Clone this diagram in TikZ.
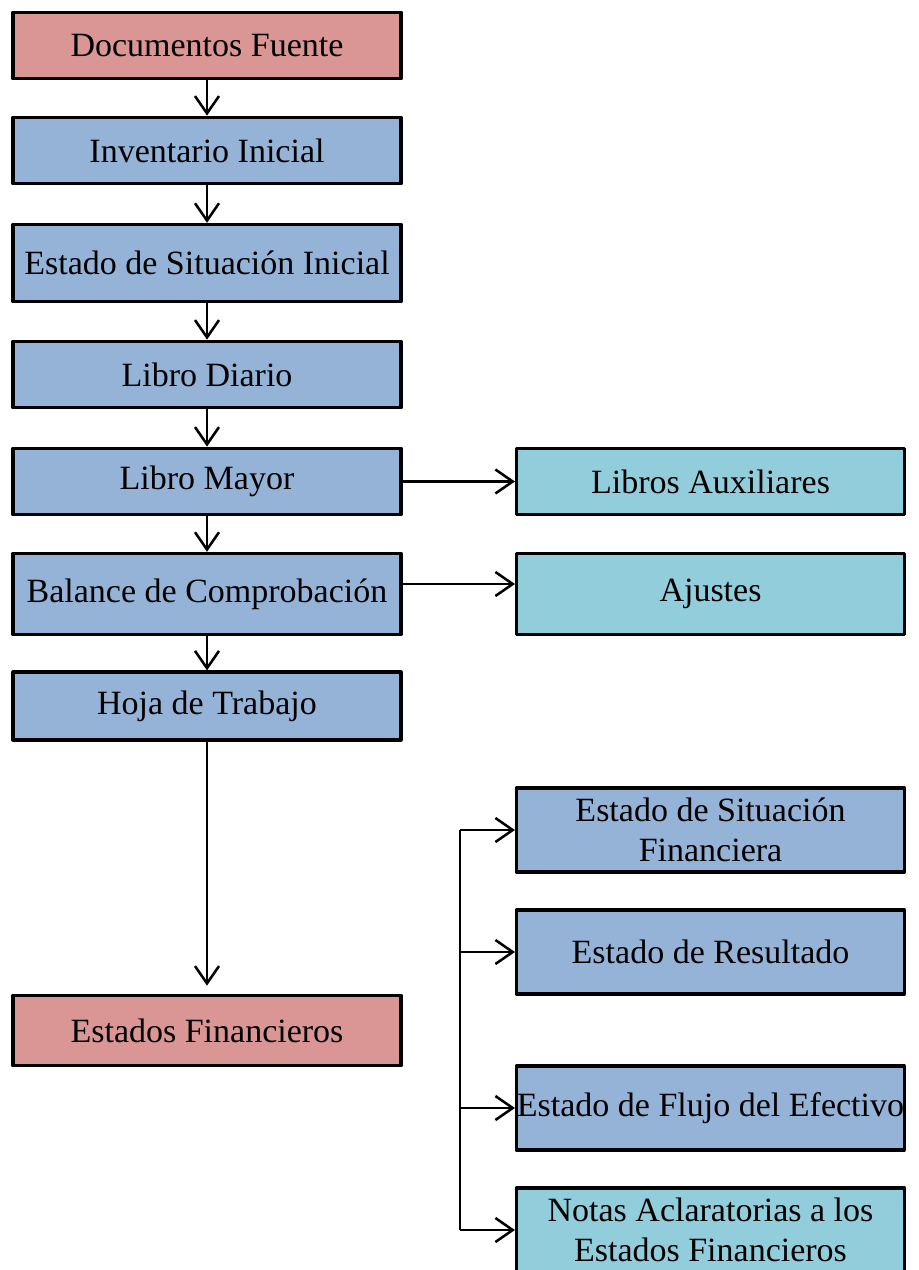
\documentclass[tikz,border=0pt]{standalone}
\usepackage{fontspec}
\setmainfont{Liberation Serif}
\usetikzlibrary{arrows.meta}
\definecolor{rosa}{HTML}{D99694}
\definecolor{azul}{HTML}{95B3D7}
\definecolor{celeste}{HTML}{92CDDC}
\begin{document}
\begin{tikzpicture}[x=.75pt,y=-.75pt,line join=round,line width=1.9pt,
    >={Straight Barb[length=13pt,width=18pt,line width=1.9pt]},
    caja/.style={draw,line width=2.3pt,minimum width=291pt,minimum height=#1,inner sep=0pt,
      align=center,font=\fontsize{25.5}{30.5}\selectfont},
    caja/.default=50pt]
    \useasboundingbox (0,0) rectangle (918,1270);
    % columna principal
    \node[caja,fill=rosa] (fuente) at (207,45.5) {Documentos Fuente};
    \node[caja,fill=azul] (inventario) at (207,150.5) {Inventario Inicial};
    \node[caja=58pt,fill=azul] (situacion) at (207,263) {Estado de Situación Inicial};
    \node[caja,fill=azul] (diario) at (207,374.5) {Libro Diario};
    \node[caja,fill=azul] (mayor) at (207,481.5) {Libro Mayor};
    \node[caja=61pt,fill=azul] (balance) at (207,594) {Balance de Comprobación};
    \node[caja=51pt,fill=azul] (hoja) at (207,706) {Hoja de Trabajo};
    \node[caja=53pt,fill=rosa] (financieros) at (207,1030.5) {Estados Financieros};
    % columna derecha
    \node[caja,fill=celeste] (auxiliares) at (710.5,481.5) {Libros Auxiliares};
    \node[caja=61pt,fill=celeste] (ajustes) at (710.5,594) {Ajustes};
    \node[caja=63pt,fill=azul] (esf) at (710.5,830) {Estado de Situación\\Financiera};
    \node[caja=63pt,fill=azul] (resultado) at (710.5,952) {Estado de Resultado};
    \node[caja=63pt,fill=azul] (flujo) at (710.5,1108) {Estado de Flujo del Efectivo};
    \node[caja=63pt,fill=celeste] (notas) at (710.5,1230) {Notas Aclaratorias a los\\Estados Financieros};
    % flechas
    \foreach \a/\b in {fuente/inventario,inventario/situacion,situacion/diario,diario/mayor,mayor/balance,balance/hoja}
      \draw[->] (\a) -- (\b);
    \draw[->,shorten >=6pt] (hoja) -- (financieros);
    \draw[->] (mayor) -- (auxiliares);
    \draw[->] (balance.east |- 0,584) -- (ajustes.west |- 0,584);
    \coordinate (llave) at (460,830);
    \coordinate (llavefin) at (460,1230);
    \draw (llave) -- (llavefin);
    \foreach \n in {esf,resultado,flujo,notas}
      \draw[->] (llave |- \n.west) -- (\n.west);
\end{tikzpicture}
\end{document}
